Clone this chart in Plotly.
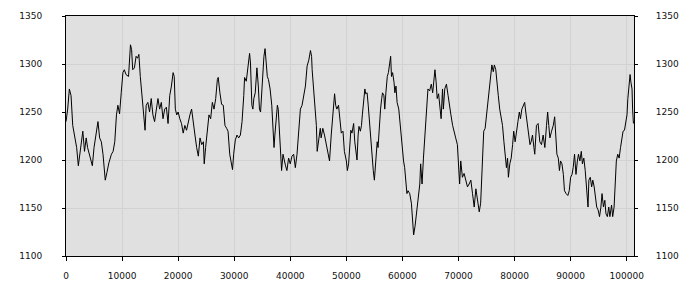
import plotly.graph_objects as go

sample_x = [0,300,600,900,1200,1500,1900,2200,2500,2800,3000,3300,3600,3850,4200,4700,5000,5400,5700,6000,6300,6600,7000,7300,7650,8100,8400,8700,9000,9250,9550,9850,10150,10400,10700,11150,11350,11500,11700,11900,12200,12500,12750,13000,13250,13550,13850,14100,14300,14600,14900,15200,15500,
15800,16400,16700,17000,17300,17600,17900,18200,18500,18800,19100,19300,19500,19750,20000,20300,20600,20900,21200,21500,21800,22100,22400,22700,23000,23300,23600,23900,24200,24500,24650,24900,25200,25500,25800,26100,26400,26700,27000,27150,27450,27750,28050,28350,28650,28900,29200,29500,29700,29900,30200,30500,30800,31100,31400,31700,31850,32150,32450,
32740,32900,33150,33330,33500,33750,34050,34300,34500,34700,34900,35100,35300,35500,35700,35900,36100,36400,36700,36900,37100,37250,37500,37700,37850,38100,38300,38450,38700,38900,39150,39400,39700,40000,40300,40600,40900,41200,41500,41800,42100,42400,42700,43000,43300,43600,43800,43900,44150,44450,44650,44800,45050,45350,45500,45800,46100,46400,46700,47000,47300,47600,47900,48100,48300,48600,48800,49100,49400,49650,
50000,50180,50400,50600,50800,51000,51300,51500,51700,51900,52100,52250,52500,52700,52850,53100,53300,53450,53700,53900,54100,54350,54600,54800,55000,55200,55350,55500,55650,55850,56100,56300,56450,56700,56850,57050,57300,57500,57700,57900,58050,58250,58500,58650,58850,59050,59350,59650,59950,60200,60400,60600,60800,61000,61300,61600,61850,62000,62250,62500,62800,63100,63250,63500,63750,63950,64150,64350,64550,64850,65150,65400,65600,65800,66000,66200,66450,66700,66900,67150,67300,
67550,67850,68150,68350,68650,68950,69250,69500,69800,70000,70200,70400,70700,71000,71300,71600,71900,72200,72500,72800,73100,73400,73700,73950,74100,74300,74500,74750,75000,75250,75450,75700,75950,76200,76400,76650,76900,77100,77350,77600,77850,78100,78300,78550,78750,78900,79150,79400,79650,79850,80100,80350,80600,80850,81050,81300,81550,81800,82000,82250,82500,82750,82950,83200,83450,83600,
83900,84200,84500,84800,85100,85400,85700,85900,86100,86300,86600,86900,87150,87350,87550,87800,88000,88200,88450,88700,88900,89200,89500,89750,90000,90250,90450,90700,90950,91200,91400,91650,91900,92100,92350,92600,92800,93100,93250,93500,93750,93950,94200,94450,94650,94900,95150,95400,95600,95850,96100,96300,96550,96800,97000,97300,97500,97750,97950,98150,98400,98650,98900,99100,99350,99600,99850,100050,100200,100400,100600,100750,100950,101050,101200]

sample_y = [1240,1253,1274,1267,1236,1226,1213,1194,1206,1219,1230,1209,1223,1213,1206,1194,1213,1231,1240,1223,1219,1206,1179,1187,1197,1206,1209,1219,1247,1257,1248,1270,1291,1294,1289,1287,1304,1320,1315,1294,1296,1308,1306,1310,1287,1264,1247,1231,1257,1260,1250,1264,1247,
1240,1264,1253,1260,1243,1253,1255,1238,1267,1277,1291,1287,1253,1247,1250,1243,1238,1228,1236,1231,1241,1247,1253,1236,1226,1213,1204,1223,1216,1219,1196,1213,1233,1247,1243,1260,1253,1264,1284,1286,1270,1258,1257,1236,1233,1230,1206,1196,1190,1206,1221,1226,1223,1226,1240,1267,1286,1282,1298,
1311,1301,1257,1253,1264,1270,1296,1277,1253,1250,1270,1294,1308,1316,1301,1287,1284,1274,1257,1233,1213,1226,1243,1257,1253,1219,1202,1189,1206,1199,1194,1189,1202,1196,1204,1206,1192,1206,1226,1253,1257,1267,1277,1298,1304,1314,1308,1294,1274,1253,1236,1209,1221,1233,1223,1233,1226,1216,1206,1199,1226,1253,1269,1257,1253,1257,1247,1228,1230,1209,
1199,1189,1196,1219,1231,1228,1238,1219,1211,1200,1226,1235,1230,1236,1247,1260,1274,1269,1270,1257,1240,1219,1206,1189,1179,1196,1209,1219,1213,1233,1253,1264,1270,1267,1253,1270,1287,1291,1298,1308,1287,1291,1281,1270,1277,1260,1253,1233,1219,1199,1192,1175,1165,1168,1165,1155,1138,1122,1131,1144,1158,1175,1196,1175,1202,1219,1243,1257,1274,1272,1279,1270,1287,1294,1282,1264,1269,1253,1243,1274,1253,
1274,1279,1267,1257,1247,1236,1230,1223,1216,1196,1175,1199,1182,1186,1179,1172,1175,1179,1165,1151,1170,1158,1146,1155,1179,1213,1230,1233,1247,1260,1274,1287,1299,1292,1299,1294,1274,1267,1253,1243,1236,1219,1206,1192,1202,1182,1196,1202,1216,1230,1219,1233,1240,1250,1243,1253,1257,1260,1250,1240,1226,1216,1219,1226,1213,1206,
1236,1238,1219,1216,1226,1213,1236,1250,1236,1223,1230,1236,1245,1226,1206,1202,1189,1199,1196,1185,1168,1165,1163,1168,1182,1185,1192,1206,1185,1199,1206,1199,1209,1196,1202,1189,1172,1151,1179,1182,1172,1179,1172,1158,1151,1148,1141,1151,1165,1151,1158,1144,1141,1151,1141,1153,1141,1151,1172,1199,1206,1202,1213,1219,1230,1231,1238,1247,1264,1277,1289,1281,1274,1253,1238]

x_ticks = [0, 10000, 20000, 30000, 40000, 50000, 60000, 70000, 80000, 90000, 100000]
y_ticks = [1100, 1150, 1200, 1250, 1300, 1350]
x_range = [0, 101300]
y_range = [1100, 1350]

font = dict(family="DejaVu Sans", size=9, color="#111111")
grid = "#d2d2d2"

fig = go.Figure()
fig.add_trace(go.Scatter(x=sample_x, y=sample_y, mode="lines",
                         line=dict(color="black", width=1), hoverinfo="skip",
                         showlegend=False))
fig.add_trace(go.Scatter(x=[x_range[0]], y=[y_range[0]], yaxis="y2", mode="markers",
                         marker=dict(opacity=0), hoverinfo="skip", showlegend=False))

fig.update_layout(
    width=700, height=300,
    margin=dict(l=66, r=66, t=11, b=44),
    paper_bgcolor="white", plot_bgcolor="#e0e0e0",
    font=font,
    xaxis=dict(range=x_range, tickvals=x_ticks, tickformat="d",
               showgrid=True, gridcolor=grid, gridwidth=1, zeroline=False,
               showline=True, linecolor="black", linewidth=1, mirror=True,
               ticks="outside", ticklen=4, tickcolor="black",
               ticklabelstandoff=7, tickfont=font),
    yaxis=dict(range=y_range, tickvals=y_ticks,
               showgrid=True, gridcolor=grid, gridwidth=1, zeroline=False,
               showline=True, linecolor="black", linewidth=1, mirror=True,
               ticks="outside", ticklen=3, tickcolor="black",
               ticklabelstandoff=18, tickfont=font),
    yaxis2=dict(range=y_range, tickvals=y_ticks, overlaying="y", side="right",
                showgrid=False, zeroline=False, showline=False,
                ticks="outside", ticklen=3, tickcolor="black",
                ticklabelstandoff=16, tickfont=font),
)

fig.write_html("out.html")
